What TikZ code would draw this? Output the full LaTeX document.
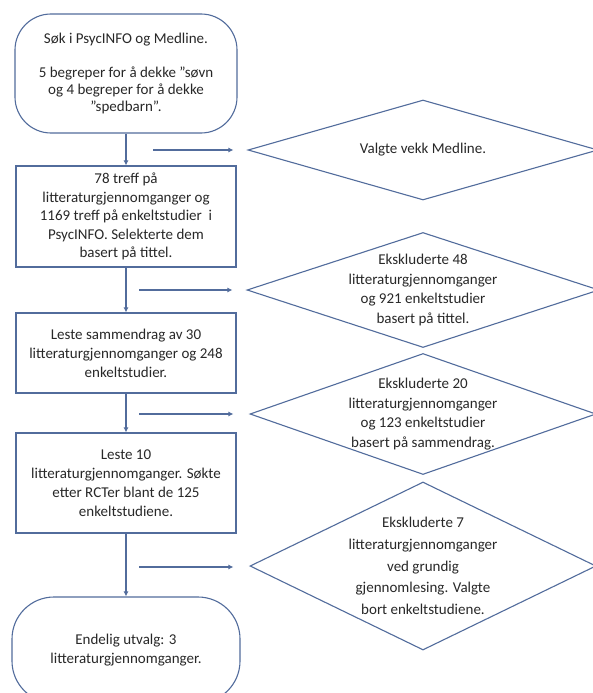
\documentclass[tikz,border=0pt]{standalone}
\usepackage{fontspec}
\setmainfont{Carlito}
\usepackage{xcolor}
\usepackage{tikz}
\usetikzlibrary{shapes.geometric,arrows.meta}

\definecolor{flowline}{RGB}{82,108,156}
\definecolor{flowtext}{RGB}{40,40,40}

\tikzset{
	flowbox/.style={draw=flowline, line width=1.1pt, rectangle, minimum width=220pt, align=center, text=flowtext, inner sep=0pt, font=\fontsize{15}{19}\selectfont},
	terminal/.style={flowbox, rounded corners=36pt},
	choice/.style={draw=flowline, line width=1.1pt, diamond, fill=white, align=center, text=flowtext, inner xsep=-40pt, inner ysep=-30pt, font=\fontsize{15}{19.5}\selectfont},
	flowarrow/.style={draw=flowline, line width=1.1pt, -{Latex[length=5pt,width=5pt]}},
}

\begin{document}
\begin{tikzpicture}[x=1pt, y=-1pt]
	\fill[white] (0,0) rectangle (593,693);
	\useasboundingbox (0,0) rectangle (593,693);

	\node[terminal, minimum width=222pt, minimum height=119pt, font=\fontsize{15}{17}\selectfont] (start) at (126,73.5) {Søk i PsycINFO og Medline.\\[17pt]5 begreper for å dekke ”søvn\\og 4 begreper for å dekke\\”spedbarn”.};
	\node[flowbox, minimum height=101pt, font=\fontsize{15}{18.6}\selectfont] (hits) at (126,216.5) {78 treff på\\litteraturgjennomganger og\\1169 treff på enkeltstudier\ \ i\\PsycINFO. Selekterte dem\\basert på tittel.};
	\node[flowbox, minimum height=80pt] (abstracts) at (126,353) {Leste sammendrag av 30\\litteraturgjennomganger og 248\\enkeltstudier.};
	\node[flowbox, minimum height=100pt] (fulltext) at (126,483) {Leste 10\\litteraturgjennomganger. Søkte\\etter RCTer blant de 125\\enkeltstudiene.};
	\node[terminal, minimum width=228pt, minimum height=106pt, rounded corners=42pt] (final) at (126,650) {Endelig utvalg: 3\\litteraturgjennomganger.};

	\node[choice, minimum width=350pt, minimum height=100pt] (drop1) at (423,150) {Valgte vekk Medline.};
	\node[choice, minimum width=352pt, minimum height=115pt] (drop2) at (423,290) {Ekskluderte 48\\litteraturgjennomganger\\og 921 enkeltstudier\\basert på tittel.};
	\node[choice, minimum width=346pt, minimum height=121pt] (drop3) at (423,414) {Ekskluderte 20\\litteraturgjennomganger\\og 123 enkeltstudier\\basert på sammendrag.};
	\node[choice, minimum width=346pt, minimum height=168pt, font=\fontsize{15}{21.6}\selectfont] (drop4) at (423,566) {Ekskluderte 7\\litteraturgjennomganger\\ved grundig\\gjennomlesing. Valgte\\bort enkeltstudiene.};

	\draw[flowarrow] (start) -- (hits);
	\draw[flowarrow] (hits) -- (abstracts);
	\draw[flowarrow] (abstracts) -- (fulltext);
	\draw[flowarrow] (fulltext) -- (final);

	\coordinate (side1) at (153,150);
	\coordinate (side2) at (139,290);
	\coordinate (side3) at (139,414);
	\coordinate (side4) at (139,567);
	\draw[flowarrow, shorten >=14pt] (side1) -- (drop1.west);
	\draw[flowarrow, shorten >=14pt] (side2) -- (drop2.west);
	\draw[flowarrow, shorten >=16pt] (side3) -- (drop3.west);
	\draw[flowarrow, shorten >=16pt] (side4) -- (drop4.west |- side4);
\end{tikzpicture}
\end{document}
